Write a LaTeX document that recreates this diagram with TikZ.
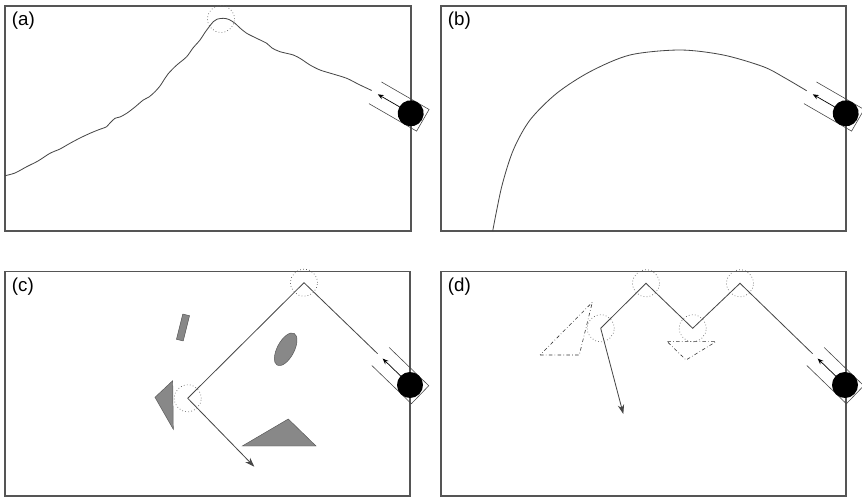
\documentclass[tikz,border=0pt]{standalone}
\usepackage{fontspec}
\setmainfont{Liberation Sans}
\usetikzlibrary{arrows.meta,calc}
\definecolor{framegray}{RGB}{85,85,85}
\definecolor{trackgray}{RGB}{70,70,70}
\definecolor{spotgray}{RGB}{95,95,95}
\definecolor{blockgray}{RGB}{136,136,136}

\newcommand{\launcher}[2]{%
  \begin{scope}[shift={(#1)},rotate=#2]
    \draw[tube] (41,12.5) -- (-14,12.5) -- (-14,-12.5) -- (41,-12.5);
    \draw[push] (13,0) -- (38,0);
    \fill[black] (0,0) circle (13);
  \end{scope}}

\begin{document}
\begin{tikzpicture}[
  x=0.03cm, y=0.03cm,
  panel/.style={draw=framegray,line width=1.1pt},
  tag/.style={anchor=north west,inner sep=0pt,font=\fontsize{16}{18}\selectfont},
  track/.style={trackgray,line width=0.7pt},
  tube/.style={trackgray,line width=0.5pt},
  push/.style={black,line width=0.6pt,-{Stealth[length=5pt,width=4pt]}},
  shot/.style={track,-{Stealth[length=8pt,width=5.5pt]}},
  spot/.style={spotgray,line width=0.6pt,dotted},
  block/.style={fill=blockgray,draw=framegray,line width=0.4pt},
  ghost/.style={black!80,line width=0.5pt,dash dot}
]
  \useasboundingbox (0,0) rectangle (862,498);

  % (a)
  \draw[panel] (5,267) rectangle (411,492);
  \node[tag] (tag-a) at (11.7,486.3) {(a)};
  \coordinate (a-ball) at (410.7,384.7);
  \coordinate (a-peak) at (221,479);
  \draw[track] plot[smooth,tension=0.5] coordinates {(371.7,407.5) (359,413.5) (346.7,419.7)
    (333,424) (320,428) (310,433) (301,439) (293.3,443) (280,446.3) (272,450) (266.7,454.7)
    (256,460) (246.7,464.7) (240,470) (235,474.7) (229,478.5) (223.3,479.7) (217,478.8)
    (213.3,476.3) (206,467) (200,458) (193,450) (186.7,441.3) (178,434) (173.3,429.7)
    (168,424) (165,419.7) (160,412) (155,406.3) (149,401) (143.3,398) (135,391)
    (126.7,384.7) (120,381) (115,379.7) (110,375) (106.7,371.3) (98,368) (90,364.7)
    (80,360) (70,354.7) (60,349) (50,344.7) (38,337) (26.7,331.3) (15,325) (5,322.3)};
  \draw[spot] (a-peak) circle (13.5);
  \launcher{a-ball}{150}

  % (b)
  \draw[panel] (441,267) rectangle (846,492);
  \node[tag] (tag-b) at (447.7,486.3) {(b)};
  \coordinate (b-ball) at (845.7,384.7);
  \draw[track] plot[smooth] coordinates {(806.7,407.2) (785,420) (763.3,431.3) (723.3,443)
    (680,448) (630,443) (590,426.3) (556.7,404.7) (530,378) (513.3,348) (501.7,311.3)
    (492.7,267)};
  \launcher{b-ball}{150}

  % (c)
  \draw[panel] (5,2) rectangle (410,226.3);
  \node[tag] (tag-c) at (11.7,220.6) {(c)};
  \coordinate (c-ball) at (410,113);
  \coordinate (c-end) at (377.6,144.3);
  \coordinate (c-top) at (304,215.3);
  \coordinate (c-hit) at (187.7,99.7);
  \coordinate (c-out) at (254.3,31.3);
  \filldraw[block,rotate around={76:(183,170.5)}] (170,167) rectangle (196,174);
  \filldraw[block,rotate around={62:(285.7,148.7)}] (285.7,148.7) ellipse [x radius=18,y radius=8.5];
  \filldraw[block] (155,100.7) -- (172.7,117.3) -- (173.3,68.7) -- cycle;
  \filldraw[block] (242.3,52) -- (288.3,79) -- (316,52) -- cycle;
  \draw[track] (c-end) -- (c-top) -- (c-hit);
  \draw[shot] (c-hit) -- (c-out);
  \draw[spot] (c-top) circle (13.5);
  \draw[spot] (c-hit) circle (13.5);
  \launcher{c-ball}{136}

  % (d)
  \draw[panel] (441,2) rectangle (846,226.3);
  \node[tag] (tag-d) at (447.7,220.6) {(d)};
  \coordinate (d-ball) at (845,113);
  \coordinate (d-end) at (812.6,144.3);
  \coordinate (d-top2) at (740,214.7);
  \coordinate (d-low) at (692.7,169.7);
  \coordinate (d-top1) at (646,214.7);
  \coordinate (d-hit) at (600.7,169.7);
  \coordinate (d-out) at (623.3,84);
  \draw[ghost] (540,143) -- (579.3,143) -- (592.3,195.7) -- cycle;
  \draw[ghost] (667.3,156.3) -- (716,156.3) -- (686,138) -- cycle;
  \draw[track] (d-end) -- (d-top2) -- (d-low) -- (d-top1) -- (d-hit);
  \draw[shot] (d-hit) -- (d-out);
  \foreach \p in {d-top2,d-low,d-top1,d-hit}
    \draw[spot] (\p) circle (13.5);
  \launcher{d-ball}{136}
\end{tikzpicture}
\end{document}
